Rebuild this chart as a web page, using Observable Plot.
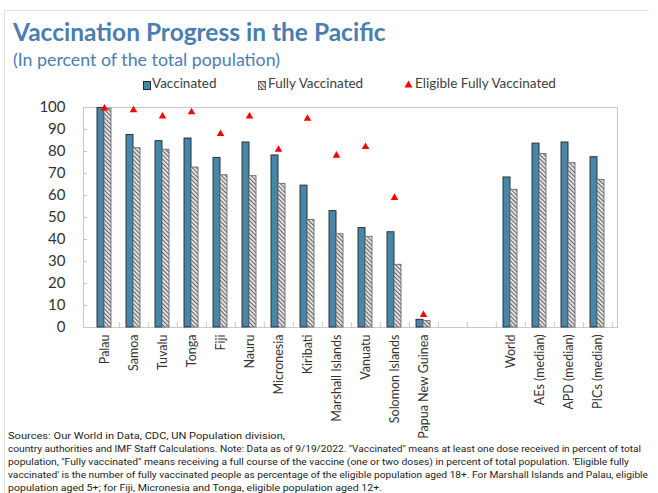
<!DOCTYPE html>
<html>
<head>
<meta charset="utf-8">
<script src="https://cdn.jsdelivr.net/npm/d3@7"></script>
<script src="https://cdn.jsdelivr.net/npm/@observablehq/plot@0.6"></script>
<style>
  html, body { margin: 0; padding: 0; background: #fff; }
  #page { position: relative; width: 658px; height: 493px; overflow: hidden; background: #fff; font-family: Lato, "Open Sans", sans-serif; }
  #border { position: absolute; left: 4px; top: 10px; width: 644px; height: 520px; border-top: 1px solid #e2e2e2; border-left: 1px solid #e2e2e2; }
  #title { position: absolute; left: 13px; top: 20px; font-size: 24.5px; line-height: 24.5px; font-weight: bold; color: #4a7eb0; white-space: nowrap; }
  #subtitle { position: absolute; left: 13px; top: 51px; font-size: 17.8px; line-height: 17.8px; color: #4a7eb0; white-space: nowrap; }
  .leg { position: absolute; top: 77px; font-size: 13.5px; line-height: 13px; color: #404040; white-space: nowrap; }
  .sw { position: absolute; top: 81px; width: 6px; height: 7px; }
  #chart { position: absolute; left: 0; top: 95px; }
  #chart svg [aria-label^="y-axis"] text { font-size: 15px; }
  #foot { position: absolute; left: 0; top: 425px; }
</style>
</head>
<body>
<svg width="0" height="0" style="position:absolute">
  <defs>
    <pattern id="hatch" patternUnits="userSpaceOnUse" width="3" height="3" patternTransform="rotate(-45)">
      <rect width="3" height="3" fill="#e8e8e8"></rect>
      <line x1="0.5" y1="0" x2="0.5" y2="3" stroke="#666666" stroke-width="1.2"></line>
    </pattern>
  </defs>
</svg>
<div id="page">
  <div id="border"></div>
  <div id="title">Vaccination Progress in the Pacific</div>
  <div id="subtitle">(In percent of the total population)</div>
  <div class="sw" style="left:143px;background:#4586a9;border:1px solid #2a2a2a;"></div>
  <div class="leg" style="left:152px;">Vaccinated</div>
  <div class="sw" style="left:258px;border:1px solid #666;"><svg width="6" height="7" style="display:block"><rect width="6" height="7" fill="url(#hatch)"></rect></svg></div>
  <div class="leg" style="left:268px;">Fully Vaccinated</div>
  <svg class="sw" style="left:404px;top:80px;width:9px;height:8px;" viewBox="0 0 9 8"><polygon points="4.5,0.5 8.5,7.5 0.5,7.5" fill="#ff0000"></polygon></svg>
  <div class="leg" style="left:415px;">Eligible Fully Vaccinated</div>
  <div id="chart"></div>
  <svg id="foot" width="658" height="68" font-family="Roboto, sans-serif" font-size="9.6" fill="#222">
    <text x="8" y="14" textLength="277" lengthAdjust="spacingAndGlyphs">Sources: Our World in Data, CDC, UN Population division,</text>
    <text x="8" y="27" textLength="633" lengthAdjust="spacingAndGlyphs">country authorities and IMF Staff Calculations. Note: Data as of 9/19/2022. "Vaccinated" means at least one dose received in percent of total</text>
    <text x="8" y="40" textLength="621" lengthAdjust="spacingAndGlyphs">population, "Fully vaccinated" means receiving a full course of the vaccine (one or two doses) in percent of total population. 'Eligible fully</text>
    <text x="8" y="53" textLength="640" lengthAdjust="spacingAndGlyphs">vaccinated' is the number of fully vaccinated people as percentage of the eligible population aged 18+. For Marshall Islands and Palau, eligible</text>
    <text x="8" y="65.5" textLength="374" lengthAdjust="spacingAndGlyphs">population aged 5+; for Fiji, Micronesia and Tonga, eligible population aged 12+.</text>
  </svg>
</div>
<script>
const categories = ["Palau", "Samoa", "Tuvalu", "Tonga", "Fiji", "Nauru", "Micronesia", "Kiribati",
  "Marshall Islands", "Vanuatu", "Solomon Islands", "Papua New Guinea", " ", "  ",
  "World", "AEs (median)", "APD (median)", "PICs (median)"];
const vaccinated = [99.8, 87.5, 84.7, 85.9, 77.1, 84.1, 78.2, 64.5, 52.9, 45.2, 43.3, 3.5, null, null, 68.2, 83.6, 84.1, 77.4];
const fullyVaccinated = [99.5, 81.5, 80.8, 72.7, 69.2, 68.8, 65.3, 48.9, 42.4, 41.2, 28.5, 2.9, null, null, 62.6, 78.9, 74.7, 67.1];
const eligibleFullyVaccinated = [99.6, 98.8, 96.0, 97.9, 88.0, 96.0, 80.9, 95.0, 78.2, 82.1, 59.0, 5.8, null, null, null, null, null, null];
const yTicks = [0, 10, 20, 30, 40, 50, 60, 70, 80, 90, 100];

const rows = categories.map((c, i) => ({c, v: vaccinated[i], f: fullyVaccinated[i], e: eligibleFullyVaccinated[i]}));

const W = 658, ML = 83, MR = 41, MT = 12, H = 345, MB = 113;
const plotW = W - ML - MR, plotH = H - MT - MB;
const step = plotW / categories.length;
const bw = step * 0.47;

const chart = Plot.plot({
  width: W, height: H,
  marginLeft: ML, marginRight: MR, marginTop: MT, marginBottom: MB,
  style: {fontFamily: "Lato, 'Open Sans', sans-serif", fontSize: "12.5px", color: "#333", background: "transparent", overflow: "visible"},
  x: {domain: categories, paddingInner: 0.53, paddingOuter: 0.265, label: null, tickSize: 0, tickPadding: 7, tickRotate: -90},
  y: {domain: [0, 100], ticks: yTicks, label: null, tickSize: 0, tickPadding: 18},
  marks: [
    Plot.tickY(yTicks.slice(1, -1), {y: d => d, stroke: "#c8c8c8", insetRight: plotW - 4}),
    Plot.tickX(categories, {x: d => d, dx: step / 2, stroke: "#c8c8c8", insetTop: plotH - 5}),
    Plot.frame({stroke: "#c8c8c8"}),
    Plot.barY(rows, {x: "c", y: "v", fill: "#4586a9", stroke: "#262626", strokeWidth: 0.9, insetRight: bw / 2}),
    Plot.barY(rows, {x: "c", y: "f", fill: "url(#hatch)", stroke: "#6a6a6a", strokeWidth: 0.9, insetLeft: bw / 2}),
    Plot.dot(rows, {x: "c", y: "e", symbol: "triangle", r: 2.8, fill: "#ff0000", stroke: "none"})
  ]
});
document.getElementById("chart").appendChild(chart);
</script>
</body>
</html>
